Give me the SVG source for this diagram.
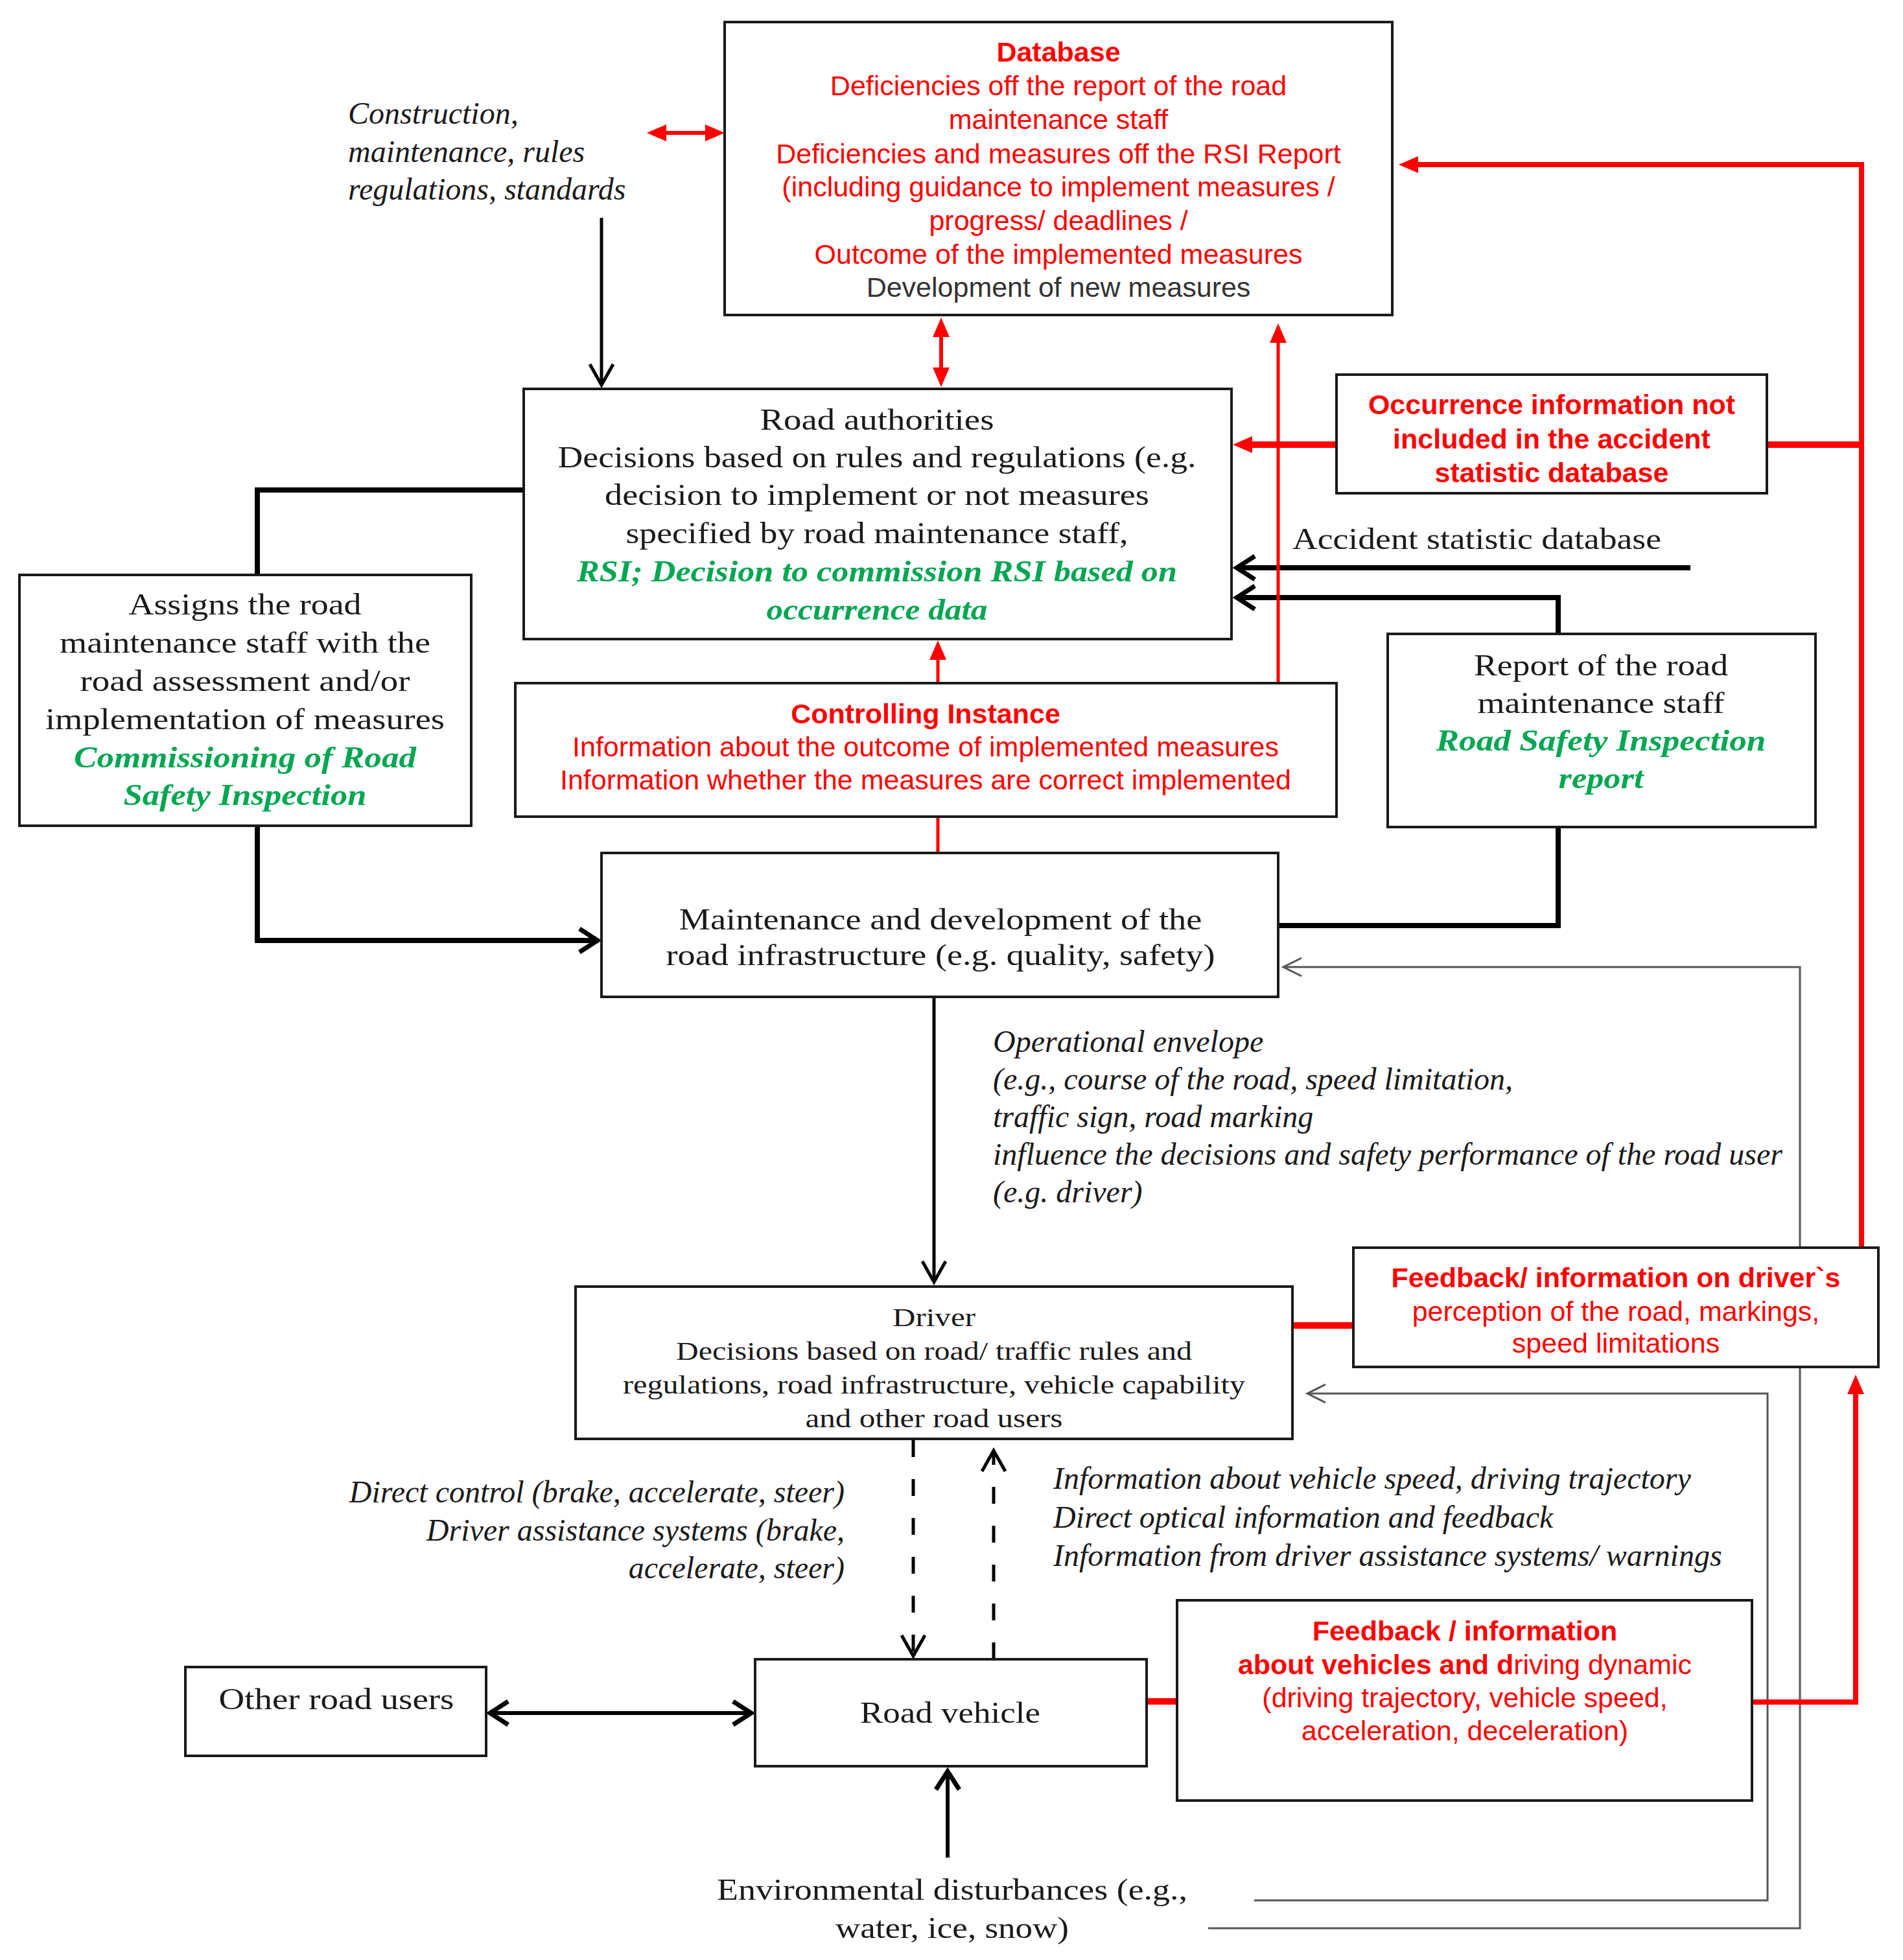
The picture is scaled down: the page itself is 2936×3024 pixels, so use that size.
<svg xmlns="http://www.w3.org/2000/svg" width="2936" height="3024" viewBox="0 0 2936 3024">
<style>
.box{fill:#fff;stroke:#1a1a1a;stroke-width:4}
.sans{font-family:"Liberation Sans",Arial,sans-serif;font-size:43px;text-anchor:middle}
.red{fill:#ff0000}
.dk{fill:#333}
.b{font-weight:bold}
.serif{font-family:"Liberation Serif","Times New Roman",serif;font-size:46px;fill:#1a1a1a;text-anchor:middle}
.sm{font-size:40px}
.it{font-family:"Liberation Serif","Times New Roman",serif;font-style:italic;font-size:48px;fill:#1a1a1a}
.grn{fill:#00a651;font-weight:bold;font-style:italic}
.k8{stroke:#000;stroke-width:8;fill:none}
.k6{stroke:#000;stroke-width:6;fill:none}
.k5{stroke:#000;stroke-width:5;fill:none}
.dash{stroke:#000;stroke-width:5;stroke-dasharray:26 34;fill:none}
.g3{stroke:#555;stroke-width:3;fill:none}
.r10{stroke:#ff0000;stroke-width:10;fill:none}
.r8{stroke:#ff0000;stroke-width:8;fill:none}
.r6{stroke:#ff0000;stroke-width:6;fill:none}
.r5{stroke:#ff0000;stroke-width:5;fill:none}
</style>
<defs>
<marker id="ak" markerUnits="userSpaceOnUse" markerWidth="44" markerHeight="44" viewBox="0 0 44 44" refX="28" refY="22" orient="auto-start-reverse" overflow="visible">
<path d="M6,4 L34,22 L6,40" fill="none" stroke="#000" stroke-width="7"/>
</marker>
<marker id="akt" markerUnits="userSpaceOnUse" markerWidth="44" markerHeight="40" viewBox="0 0 44 40" refX="30" refY="20" orient="auto-start-reverse" overflow="visible">
<path d="M4,2 L36,20 L4,38" fill="none" stroke="#000" stroke-width="5"/>
</marker>
<marker id="ag" markerUnits="userSpaceOnUse" markerWidth="40" markerHeight="36" viewBox="0 0 40 36" refX="28" refY="18" orient="auto" overflow="visible">
<path d="M4,4 L32,18 L4,32" fill="none" stroke="#555" stroke-width="3"/>
</marker>
<marker id="ar" markerUnits="userSpaceOnUse" markerWidth="30" markerHeight="26" viewBox="0 0 30 26" refX="8" refY="13" orient="auto-start-reverse" overflow="visible">
<path d="M0,0 L30,13 L0,26 Z" fill="#ff0000"/>
</marker>
</defs>
<rect width="2936" height="3024" fill="#fff"/>

<g id="connectors">
<path class="k5" d="M928,336 V588" marker-end="url(#akt)"/>
<path class="k5" d="M1441,1540 V1972" marker-end="url(#akt)"/>
<path class="k8" d="M808,756 H397 V887"/>
<path class="k8" d="M397,1274 V1451 H916" marker-end="url(#ak)"/>
<path class="k8" d="M2608,876 H1914" marker-end="url(#ak)"/>
<path class="k8" d="M2404,978 V922 H1914" marker-end="url(#ak)"/>
<path class="k8" d="M2404,1276 V1428 H1972"/>
<path class="k6" d="M762,2643 H1153" marker-start="url(#ak)" marker-end="url(#ak)"/>
<path class="k6" d="M1462,2866 V2739" marker-end="url(#ak)"/>
<path class="dash" d="M1409,2222 V2549" marker-end="url(#akt)"/>
<path class="dash" d="M1533,2560 V2244" marker-end="url(#akt)"/>
<path class="g3" d="M1864,2975 H2777 V1492 H1984" marker-end="url(#ag)"/>
<path class="g3" d="M1935,2932 H2727 V2150 H2021" marker-end="url(#ag)"/>
<path class="r6" d="M1020,205 H1096" marker-start="url(#ar)" marker-end="url(#ar)"/>
<path class="r6" d="M1452,512 V575" marker-start="url(#ar)" marker-end="url(#ar)"/>
<path class="r8" d="M2872,1925 V254 H2180" marker-end="url(#ar)"/>
<path class="r10" d="M2726,686 H2872"/>
<path class="r10" d="M2062,686 H1924" marker-end="url(#ar)"/>
<path class="r5" d="M1972,1054 V521" marker-end="url(#ar)"/>
<path class="r5" d="M1447,1054 V1010" marker-end="url(#ar)"/>
<path class="r5" d="M1447,1260 V1316"/>
<path class="r10" d="M1994,2045 H2088"/>
<path class="r10" d="M1769,2625 H1816"/>
<path class="r8" d="M2703,2626 H2863 V2143" marker-end="url(#ar)"/>
</g>

<g id="construction-label">
<text class="it" x="537" y="191">Construction,</text>
<text class="it" x="537" y="250">maintenance, rules</text>
<text class="it" x="537" y="308">regulations, standards</text>
</g>

<g id="database">
<rect class="box" x="1118" y="34" width="1030" height="452"/>
<text class="sans red b" x="1633" y="95">Database</text>
<text class="sans red" x="1633" y="147">Deficiencies off the report of the road</text>
<text class="sans red" x="1633" y="199">maintenance staff</text>
<text class="sans red" x="1633" y="252">Deficiencies and measures off the RSI Report</text>
<text class="sans red" x="1633" y="303">(including guidance to implement measures /</text>
<text class="sans red" x="1633" y="355">progress/ deadlines /</text>
<text class="sans red" x="1633" y="407">Outcome of the implemented measures</text>
<text class="sans dk" x="1633" y="458">Development of new measures</text>
</g>

<g id="road-authorities">
<rect class="box" x="808" y="600" width="1092" height="386"/>
<text class="serif" x="1353" y="663" textLength="361" lengthAdjust="spacingAndGlyphs">Road authorities</text>
<text class="serif" x="1353" y="721" textLength="985" lengthAdjust="spacingAndGlyphs">Decisions based on rules and regulations (e.g.</text>
<text class="serif" x="1353" y="779" textLength="840" lengthAdjust="spacingAndGlyphs">decision to implement or not measures</text>
<text class="serif" x="1353" y="838" textLength="775" lengthAdjust="spacingAndGlyphs">specified by road maintenance staff,</text>
<text class="serif grn" x="1353" y="897" textLength="926" lengthAdjust="spacingAndGlyphs">RSI; Decision to commission RSI based on</text>
<text class="serif grn" x="1353" y="956" textLength="341" lengthAdjust="spacingAndGlyphs">occurrence data</text>
</g>

<g id="occurrence-info">
<rect class="box" x="2062" y="578" width="664" height="183"/>
<text class="sans red b" x="2394" y="639">Occurrence information not</text>
<text class="sans red b" x="2394" y="692">included in the accident</text>
<text class="sans red b" x="2394" y="744">statistic database</text>
</g>

<g id="accident-label">
<text class="serif" x="1994" y="847" style="text-anchor:start" textLength="569" lengthAdjust="spacingAndGlyphs">Accident statistic database</text>
</g>

<g id="assigns">
<rect class="box" x="30" y="887" width="697" height="387"/>
<text class="serif" x="378" y="948" textLength="359" lengthAdjust="spacingAndGlyphs">Assigns the road</text>
<text class="serif" x="378" y="1007" textLength="572" lengthAdjust="spacingAndGlyphs">maintenance staff with the</text>
<text class="serif" x="378" y="1066" textLength="509" lengthAdjust="spacingAndGlyphs">road assessment and/or</text>
<text class="serif" x="378" y="1125" textLength="616" lengthAdjust="spacingAndGlyphs">implementation of measures</text>
<text class="serif grn" x="378" y="1184" textLength="528" lengthAdjust="spacingAndGlyphs">Commissioning of Road</text>
<text class="serif grn" x="378" y="1242" textLength="375" lengthAdjust="spacingAndGlyphs">Safety Inspection</text>
</g>

<g id="controlling-instance">
<rect class="box" x="795" y="1054" width="1267" height="206"/>
<text class="sans red b" x="1428" y="1116">Controlling Instance</text>
<text class="sans red" x="1428" y="1167">Information about the outcome of implemented measures</text>
<text class="sans red" x="1428" y="1218">Information whether the measures are correct implemented</text>
</g>

<g id="report">
<rect class="box" x="2141" y="978" width="660" height="298"/>
<text class="serif" x="2470" y="1042" textLength="392" lengthAdjust="spacingAndGlyphs">Report of the road</text>
<text class="serif" x="2470" y="1100" textLength="381" lengthAdjust="spacingAndGlyphs">maintenance staff</text>
<text class="serif grn" x="2470" y="1158" textLength="509" lengthAdjust="spacingAndGlyphs">Road Safety Inspection</text>
<text class="serif grn" x="2470" y="1216" textLength="131" lengthAdjust="spacingAndGlyphs">report</text>
</g>

<g id="maintenance">
<rect class="box" x="928" y="1316" width="1044" height="222"/>
<text class="serif" x="1451" y="1434" textLength="807" lengthAdjust="spacingAndGlyphs">Maintenance and development of the</text>
<text class="serif" x="1451" y="1489" textLength="847" lengthAdjust="spacingAndGlyphs">road infrastructure (e.g. quality, safety)</text>
</g>

<g id="operational-envelope">
<text class="it" x="1532" y="1623">Operational envelope</text>
<text class="it" x="1532" y="1681">(e.g., course of the road, speed limitation,</text>
<text class="it" x="1532" y="1739">traffic sign, road marking</text>
<text class="it" x="1532" y="1797">influence the decisions and safety performance of the road user</text>
<text class="it" x="1532" y="1855">(e.g. driver)</text>
</g>

<g id="driver">
<rect class="box" x="888" y="1985" width="1106" height="235"/>
<text class="serif sm" x="1441" y="2046" textLength="128" lengthAdjust="spacingAndGlyphs">Driver</text>
<text class="serif sm" x="1441" y="2098" textLength="796" lengthAdjust="spacingAndGlyphs">Decisions based on road/ traffic rules and</text>
<text class="serif sm" x="1441" y="2150" textLength="960" lengthAdjust="spacingAndGlyphs">regulations, road infrastructure, vehicle capability</text>
<text class="serif sm" x="1441" y="2202" textLength="397" lengthAdjust="spacingAndGlyphs">and other road users</text>
</g>

<g id="feedback-driver">
<rect class="box" x="2088" y="1925" width="810" height="184"/>
<text class="sans red b" x="2493" y="1986">Feedback/ information on driver`s</text>
<text class="sans red" x="2493" y="2038">perception of the road, markings,</text>
<text class="sans red" x="2493" y="2087">speed limitations</text>
</g>

<g id="control-label">
<text class="it" x="1303" y="2318" text-anchor="end">Direct control (brake, accelerate, steer)</text>
<text class="it" x="1303" y="2377" text-anchor="end">Driver assistance systems (brake,</text>
<text class="it" x="1303" y="2435" text-anchor="end">accelerate, steer)</text>
</g>

<g id="information-label">
<text class="it" x="1625" y="2297">Information about vehicle speed, driving trajectory</text>
<text class="it" x="1625" y="2357">Direct optical information and feedback</text>
<text class="it" x="1625" y="2416">Information from driver assistance systems/ warnings</text>
</g>

<g id="other-road-users">
<rect class="box" x="286" y="2572" width="464" height="137"/>
<text class="serif" x="519" y="2637" textLength="363" lengthAdjust="spacingAndGlyphs">Other road users</text>
</g>

<g id="road-vehicle">
<rect class="box" x="1165" y="2560" width="604" height="165"/>
<text class="serif" x="1466" y="2658" textLength="278" lengthAdjust="spacingAndGlyphs">Road vehicle</text>
</g>

<g id="feedback-vehicle">
<rect class="box" x="1816" y="2469" width="887" height="309"/>
<text class="sans red b" x="2260" y="2531">Feedback / information</text>
<text class="sans red" x="2260" y="2583"><tspan class="b">about vehicles and d</tspan>riving dynamic</text>
<text class="sans red" x="2260" y="2634">(driving trajectory, vehicle speed,</text>
<text class="sans red" x="2260" y="2685">acceleration, deceleration)</text>
</g>

<g id="environment-label">
<text class="serif" x="1469" y="2931" textLength="726" lengthAdjust="spacingAndGlyphs">Environmental disturbances (e.g.,</text>
<text class="serif" x="1469" y="2990" textLength="360" lengthAdjust="spacingAndGlyphs">water, ice, snow)</text>
</g>
</svg>
